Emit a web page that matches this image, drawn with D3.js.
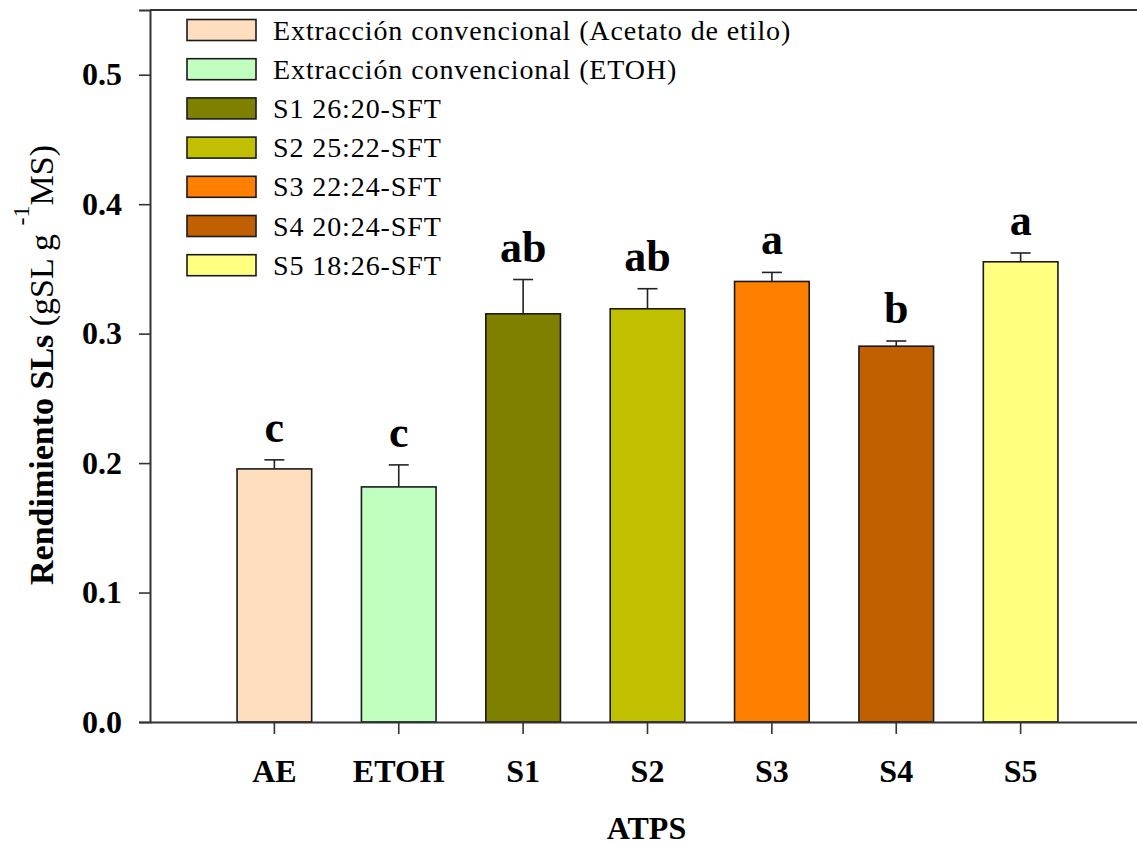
<!DOCTYPE html>
<html>
<head>
<meta charset="utf-8">
<script src="https://cdn.jsdelivr.net/npm/d3@7"></script>
<style>
  html, body { margin: 0; padding: 0; background: #fff; }
  svg { display: block; }
  text { font-family: "Liberation Serif", "Times New Roman", serif; fill: #000; }
</style>
</head>
<body>
<svg id="chart" width="1137" height="846"></svg>
<script>
// Yield of SLs per extraction system
const categories = ["AE", "ETOH", "S1", "S2", "S3", "S4", "S5"];
const means      = [0.1955, 0.1816, 0.3153, 0.3192, 0.3403, 0.2903, 0.3555];
const errors     = [0.0070, 0.0170, 0.0265, 0.0155, 0.0070, 0.0040, 0.0068];
const letters    = ["c", "c", "ab", "ab", "a", "b", "a"];
const legendLabels = [
  "Extracción convencional (Acetato de etilo)",
  "Extracción convencional (ETOH)",
  "S1 26:20-SFT",
  "S2 25:22-SFT",
  "S3 22:24-SFT",
  "S4 20:24-SFT",
  "S5 18:26-SFT"
];
const colors = ["#FFDEC0", "#C0FFC0", "#808000", "#C0C000", "#FF8000", "#C06000", "#FFFF80"];
const yTicks = [0, 0.1, 0.2, 0.3, 0.4, 0.5];

const svg = d3.select("#chart");
const plotL = 150, plotR = 1145, plotT = 10, plotB = 722;

const x = d3.scaleBand().domain(categories).range([plotL, plotR])
  .paddingInner(0.4).paddingOuter(0.7);
const y = d3.scaleLinear().domain([0, 0.55]).range([plotB, plotT]);
const color = d3.scaleOrdinal().domain(categories).range(colors);

const rows = categories.map((c, i) => ({ c, m: means[i], e: errors[i], l: letters[i] }));

// bars
svg.append("g").selectAll("rect").data(rows).join("rect")
  .attr("x", d => x(d.c))
  .attr("y", d => y(d.m))
  .attr("width", x.bandwidth())
  .attr("height", d => y(0) - y(d.m))
  .attr("fill", d => color(d.c))
  .attr("stroke", "#1a1a1a")
  .attr("stroke-width", 1.6);

// upper error whiskers
const eb = svg.append("g").attr("stroke", "#222").attr("stroke-width", 1.6);
rows.forEach(d => {
  const cx = x(d.c) + x.bandwidth() / 2;
  eb.append("line").attr("x1", cx).attr("x2", cx).attr("y1", y(d.m)).attr("y2", y(d.m + d.e));
  eb.append("line").attr("x1", cx - 10).attr("x2", cx + 10).attr("y1", y(d.m + d.e)).attr("y2", y(d.m + d.e));
});

// significance letters
svg.append("g").selectAll("text").data(rows).join("text")
  .attr("x", d => x(d.c) + x.bandwidth() / 2)
  .attr("y", d => y(d.m + d.e) - 18)
  .attr("text-anchor", "middle")
  .style("font-size", "44px")
  .style("font-weight", "bold")
  .text(d => d.l);

// frame (top and right edges)
svg.append("path")
  .attr("d", `M${plotL},${plotT}H${plotR}V${plotB}`)
  .attr("fill", "none").attr("stroke", "#333").attr("stroke-width", 2);

// y axis
const gy = svg.append("g").attr("transform", `translate(${plotL},0)`)
  .call(d3.axisLeft(y).tickValues(yTicks).tickFormat(d3.format(".1f")).tickSize(11).tickPadding(17));
gy.select(".domain").attr("stroke", "#333").attr("stroke-width", 2);
gy.selectAll(".tick line").attr("stroke", "#333").attr("stroke-width", 1.6);
gy.selectAll(".tick text")
  .style("font-family", "'Liberation Serif', 'Times New Roman', serif")
  .style("font-size", "32px").style("font-weight", "bold").attr("fill", "#000");

// x axis
const gx = svg.append("g").attr("transform", `translate(0,${plotB})`)
  .call(d3.axisBottom(x).tickSize(12).tickPadding(14).tickSizeOuter(0));
gx.select(".domain").attr("stroke", "#333").attr("stroke-width", 2);
gx.selectAll(".tick line").attr("stroke", "#333").attr("stroke-width", 1.6);
gx.selectAll(".tick text")
  .style("font-family", "'Liberation Serif', 'Times New Roman', serif")
  .style("font-size", "32px").style("font-weight", "bold").attr("fill", "#000")
  .attr("dy", "1.05em");

// axis titles
svg.append("text")
  .attr("x", (plotL + plotR) / 2 - 1).attr("y", 839)
  .attr("text-anchor", "middle")
  .style("font-size", "32px").style("font-weight", "bold")
  .text("ATPS");

const yt = svg.append("text")
  .attr("transform", "translate(53,365) rotate(-90)")
  .attr("text-anchor", "middle")
  .style("font-size", "34px");
yt.append("tspan").style("font-weight", "bold").text("Rendimiento SLs ");
yt.append("tspan").text("(gSL g ");
yt.append("tspan").attr("dy", -24).style("font-size", "24px").text("-1");
yt.append("tspan").attr("dy", 24).text("MS)");

// legend
const lg = svg.append("g");
legendLabels.forEach((t, i) => {
  const cy = 30 + i * 39.2;
  lg.append("rect")
    .attr("x", 187).attr("y", cy - 10.5).attr("width", 69).attr("height", 21)
    .attr("fill", colors[i]).attr("stroke", "#1a1a1a").attr("stroke-width", 1.6);
  lg.append("text")
    .attr("x", 273).attr("y", cy + 9.5)
    .style("font-size", "28px").style("letter-spacing", "0.9px")
    .text(t);
});
</script>
</body>
</html>
